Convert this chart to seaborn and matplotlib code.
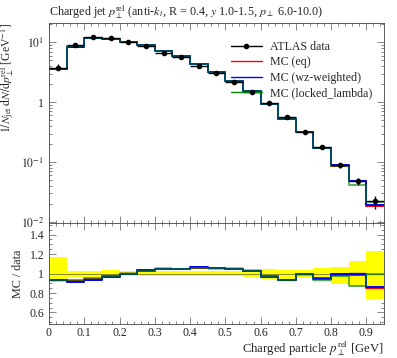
import numpy as np
import pandas as pd
import matplotlib
matplotlib.use("Agg")
import matplotlib.pyplot as plt
from matplotlib.lines import Line2D
from matplotlib.ticker import MultipleLocator, LogLocator, FuncFormatter, NullFormatter
import seaborn as sns

# binning (charged particle p_perp^rel, GeV)
bin_edges = [round(0.05 * i, 2) for i in range(20)]
bin_centers = [0.5 * (a + b) for a, b in zip(bin_edges[:-1], bin_edges[1:])]

# ATLAS data
data = [3.79, 9.15, 12.4, 11.8, 10.0, 8.8, 6.74, 5.69, 4.09, 3.04,
        2.18, 1.49, 0.96, 0.57, 0.316, 0.182, 0.089, 0.048, 0.022]
err_up = [0.166, 0.028, 0.03, 0.035, 0.025, 0.025, 0.025, 0.03, 0.03, 0.03,
          0.03, 0.035, 0.05, 0.035, 0.04, 0.057, 0.063, 0.13, 0.235]
err_dn = [0.085, 0.038, 0.035, 0.035, 0.025, 0.025, 0.025, 0.03, 0.03, 0.03,
          0.03, 0.04, 0.06, 0.06, 0.05, 0.057, 0.11, 0.13, 0.265]

# MC predictions
mc_eq = [3.54, 8.40, 11.66, 11.45, 10.0, 9.06, 7.08, 5.97, 4.33, 3.20,
         2.29, 1.535, 0.936, 0.533, 0.313, 0.174, 0.0877, 0.0475, 0.0187]
mc_wz = [3.52, 8.35, 11.6, 11.4, 10.0, 9.08, 7.08, 5.97, 4.35, 3.20,
         2.29, 1.535, 0.928, 0.533, 0.313, 0.172, 0.0881, 0.048, 0.0189]
mc_locked = [3.55, 8.54, 11.78, 11.45, 10.0, 9.06, 7.08, 5.97, 4.31, 3.20,
             2.29, 1.535, 0.926, 0.530, 0.313, 0.169, 0.0870, 0.0418, 0.0218]

mc_sets = [("MC (eq)", mc_eq, "red", 1.0),
           ("MC (wz-weighted)", mc_wz, "blue", 1.0),
           ("MC (locked_lambda)", mc_locked, "green", 0.6)]

sns.set_style("ticks")
plt.rcParams["font.family"] = ["Liberation Serif", "DejaVu Serif"]
plt.rcParams["mathtext.fontset"] = "stix"
plt.rcParams["axes.linewidth"] = 0.6
plt.rcParams["axes.edgecolor"] = "#444444"

fig = plt.figure(figsize=(3.97, 3.58), dpi=100)
ax = fig.add_axes([0.1234, 0.377, 0.8438, 0.5587])
axr = fig.add_axes([0.1234, 0.095, 0.8438, 0.282], sharex=ax)

data = np.array(data)
up = np.array(err_up)
dn = np.array(err_dn)
edges = np.array(bin_edges)

# main panel
for label, vals, col, a in mc_sets:
    v = np.array(vals)
    ax.fill_between(edges, np.append(v, v[-1]) * 0.985, np.append(v, v[-1]) * 1.015,
                    step="post", color=col, alpha=0.15, lw=0)
    df = pd.DataFrame({"x": bin_centers, "w": vals})
    sns.histplot(data=df, x="x", weights="w", bins=bin_edges, element="step",
                 fill=False, color=col, linewidth=1.4, alpha=a, ax=ax)
ax.errorbar(bin_centers, data, xerr=0.025, yerr=[data * dn, data * up],
            fmt="o", color="black", ms=3, lw=1.0, capsize=0, zorder=5)
ax.set_yscale("log")
ax.set_ylim(0.0096, 21)
ax.set_xlim(0, 0.95)

ax.set_title(r"Charged jet $p_\perp^\mathrm{rel}$ (anti-$k_t$, R = 0.4, $y$ 1.0-1.5, $p_\perp$ 6.0-10.0)",
             loc="left", fontsize=8.7, pad=5)
ax.set_ylabel(r"$1/N_\mathrm{jet}\;\mathrm{d}N/\mathrm{d}p_\perp^\mathrm{rel}$ [GeV$^{-1}$]",
              fontsize=8.4, loc="top")
ax.yaxis.set_label_coords(-0.097, 1.0)
ax.set_xlabel("")


def log_fmt(v, pos):
    k = int(round(np.log10(v)))
    return "1" if k == 0 else r"$10^{%d}$" % k


ax.yaxis.set_major_locator(LogLocator(base=10))
ax.yaxis.set_minor_locator(LogLocator(base=10, subs=np.arange(2, 10)))
ax.yaxis.set_major_formatter(FuncFormatter(log_fmt))
ax.yaxis.set_minor_formatter(NullFormatter())
ax.tick_params(labelbottom=False)

leg_handles = [Line2D([], [], color="black", marker="o", ms=3, lw=1.0)] + \
              [Line2D([], [], color=c, lw=1.0) for _, _, c, _ in mc_sets]
ax.legend(leg_handles, ["ATLAS data"] + [l for l, _, _, _ in mc_sets],
          loc="upper left", bbox_to_anchor=(0.51, 0.965), frameon=False,
          fontsize=8.6, handlelength=2.6, handletextpad=0.7, labelspacing=0.3)

# ratio panel
axr.fill_between(edges, np.append(1 - dn, 1 - dn[-1]), np.append(1 + up, 1 + up[-1]),
                 step="post", color="#ffff00", lw=0, zorder=1)
axr.axhline(1.0, color="#777733", lw=0.6, zorder=2)
for label, vals, col, a in mc_sets:
    r = np.array(vals) / data
    axr.fill_between(edges, np.append(r, r[-1]) - 0.012, np.append(r, r[-1]) + 0.012,
                     step="post", color=col, alpha=0.15, lw=0, zorder=2)
    df = pd.DataFrame({"x": bin_centers, "w": r})
    sns.histplot(data=df, x="x", weights="w", bins=bin_edges,
                 element="step", fill=False, color=col, linewidth=1.4, alpha=a, ax=axr)
axr.set_ylim(0.482, 1.518)
axr.set_xlim(0, 0.95)
axr.set_ylabel("MC / data", fontsize=8.7)
axr.set_xlabel(r"Charged particle $p_\perp^\mathrm{rel}$ [GeV]", fontsize=9.2, loc="right")
axr.xaxis.set_label_coords(1.0, -0.155)
axr.yaxis.set_major_locator(MultipleLocator(0.2))
axr.yaxis.set_minor_locator(MultipleLocator(0.05))
axr.yaxis.set_major_formatter(FuncFormatter(lambda v, p: "%g" % round(v, 2)))
axr.xaxis.set_major_locator(MultipleLocator(0.1))
axr.xaxis.set_minor_locator(MultipleLocator(0.02))
axr.xaxis.set_major_formatter(FuncFormatter(lambda v, p: "%g" % round(v, 2)))

for a in (ax, axr):
    a.tick_params(which="both", direction="in", top=True, right=True,
                  color="#555555", width=0.5, labelsize=8.5)
    a.tick_params(which="major", length=5)
    a.tick_params(which="minor", length=2.5)
axr.tick_params(axis="x", pad=2)

fig.savefig("out.png", dpi=100)
